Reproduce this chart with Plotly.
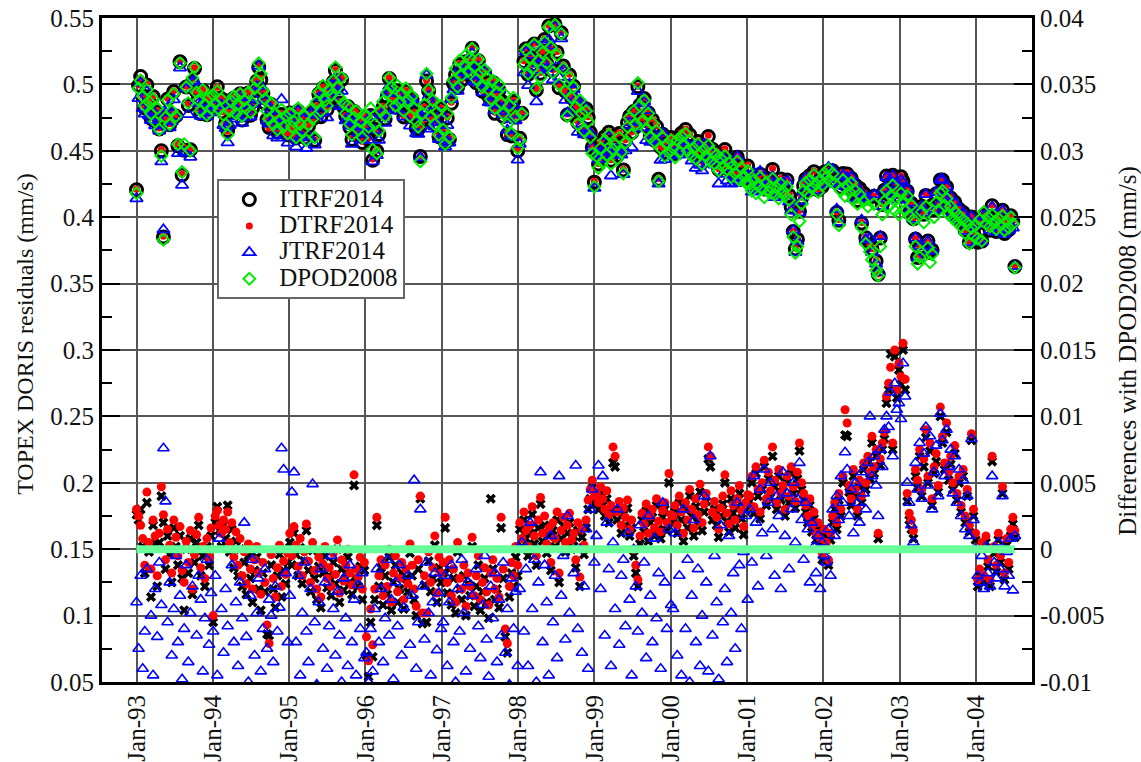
import numpy as np
import pandas as pd
import plotly.graph_objects as go

# ---------------- data ----------------
# TOPEX cycle numbers (one value per ~9.9156-day cycle)
cycles = list(range(11, 436))

# DPOD2008 TOPEX DORIS residuals (mm/s, x1000), one row per year 1993..2004
dpod2008_milli = [
    418, 497, 503, 491, 484, 496, 487, 478, 489, 472, 482, 466, 446, 383, 475, 488, 470, 480, 493, 476, 455, 516, 434, 455, 498, 486, 450, 505, 513, 494, 488, 480, 496, 485, 477, 490, 482,
    492, 486, 495, 481, 489, 477, 470, 462, 480, 487, 491, 478, 485, 493, 476, 488, 482, 494, 479, 486, 497, 503, 516, 508, 495, 489, 480, 474, 486, 470, 478, 466, 473, 481, 468, 476, 463,
    478, 468, 472, 460, 482, 470, 465, 476, 458, 470, 481, 474, 460, 487, 494, 480, 499, 488, 484, 496, 492, 503, 513, 498, 490, 505, 486, 478, 484, 470, 462, 475, 480, 466, 472, 460, 477,
    476, 468, 482, 451, 470, 448, 465, 480, 487, 476, 494, 505, 498, 490, 484, 499, 487, 493, 480, 497, 488, 476, 491, 482, 472, 468, 442, 478, 485, 508, 496, 476, 488, 470, 479, 462, 484,
    466, 455, 478, 460, 490, 503, 512, 498, 518, 507, 514, 522, 510, 520, 527, 513, 504, 519, 509, 498, 511, 505, 496, 489, 503, 482, 494, 500, 486, 478, 492, 470, 484, 463, 490, 476, 452,
    458, 478, 515, 526, 508, 520, 512, 530, 497, 518, 505, 524, 532, 516, 543, 528, 509, 545, 522, 500, 538, 512, 495, 476, 505, 490, 498, 483, 470, 488, 478, 465, 480, 472, 460, 448, 423,
    446, 437, 452, 441, 458, 447, 462, 440, 451, 455, 444, 460, 449, 433, 456, 468, 475, 462, 480, 470, 501, 484, 472, 488, 466, 478, 460, 471, 457, 465, 427, 452, 460, 446, 455, 449, 458,
    452, 445, 458, 449, 461, 455, 463, 450, 458, 446, 452, 444, 455, 448, 440, 451, 446, 454, 442, 449, 440, 447, 435, 444, 438, 446, 436, 441, 430, 439, 433, 442, 428, 437, 431, 426, 435,
    425, 420, 428, 418, 424, 430, 421, 415, 426, 419, 423, 429, 417, 422, 414, 425, 420, 416, 423, 413, 402, 385, 373, 378, 397, 410, 420, 426, 418, 428, 422, 432, 425, 419, 428, 424, 433,
    430, 436, 427, 433, 425, 402, 394, 420, 428, 416, 424, 419, 426, 413, 420, 410, 417, 392, 412, 380, 408, 374, 368, 410, 360, 356, 378, 402, 412, 420, 408, 416, 424, 405, 414, 402, 418,
    412, 405, 416, 401, 409, 398, 378, 365, 370, 404, 396, 408, 377, 366, 372, 400, 411, 405, 418, 420, 409, 414, 402, 408, 399, 404, 396, 401, 393, 398, 388, 395, 380, 392, 386, 394, 384,
    398, 382, 404, 395, 400, 393, 402, 396, 391, 399, 394, 401, 390, 397, 392, 400, 395, 362,
]

# Differences with DPOD2008 (mm/s, x10000)
diff_itrf2014 = [
    26, 22, 30, 2, -18, 35, -2, -36, 18, 4, -28, 5, 40, 20, -15, 10, -4, -25, 16, 2, -12, 10, -22, -46, 0, -18, 8, -34, -10, 5, 18, -20, -5, -28, 2, -12, 10,
    -55, 20, 32, 14, 2, 18, 8, 33, -2, 15, -14, 6, -20, 0, -28, -10, -34, -5, -22, -40, -16, -6, -30, -46, -18, -32, -64, -65, -12, -30, -44, -20, -4, -36, -16, -26, -10,
    5, -12, 12, -4, -20, 1, -26, -9, 14, -16, -32, -1, -22, -38, -13, -44, -18, -5, -29, -20, -35, -10, -26, 0, -40, -15, -31, -18, -6, -25, -34, 48, -22, -28, -13, -38, -16,
    -80, -96, -55, -81, -38, 18, -28, -14, -42, -20, -34, -6, -46, -25, -12, -40, -30, -18, -45, -22, -32, -3, -20, -38, -50, -15, 38, -56, -27, -55, -9, -32, -22, 3, -40, -14, -25,
    -18, 16, -33, -15, -42, -22, -48, -2, -30, -38, -20, -50, -26, -35, 2, -43, -28, -12, -46, -32, -22, -40, -52, 38, -15, -38, -30, -44, 16, -22, -66, -78, -36, -18, -28, -6, -20,
    15, 2, 22, 8, -5, 12, 26, 4, -12, 16, 34, 6, 18, -3, 10, -16, 14, 2, 22, -25, 8, 18, -2, 12, 20, 0, 6, -14, 14, -28, 9, -4, 16, 30, 38, 46, 34,
    38, 30, 42, 33, 25, 38, 20, 28, 65, 62, 22, 30, 12, 26, 18, 31, 10, 16, -5, -18, -28, 4, 22, 13, 29, 6, 20, 24, 10, 33, 15, 8, 24, 30, 14, 50, 20,
    20, 28, 12, 35, 22, 6, 30, 16, 40, 25, 10, 32, 20, 43, 14, 28, 36, 68, 62, 22, 30, 18, 9, 25, 34, 50, 21, 13, 38, 27, 16, 32, 42, 23, 11, 29, 35,
    36, 50, 27, 57, 40, 23, 45, 62, 33, 53, 39, 70, 47, 30, 55, 37, 43, 25, 50, 35, 57, 42, 31, 53, 74, 45, 37, 28, 20, 33, 13, 23, 7, 15, 3, -8, 10,
    0, -12, 7, 20, 30, 15, 37, 25, 50, 86, 85, 43, 33, 55, 40, 25, 47, 35, 60, 45, 65, 53, 80, 57, 70, 8, 63, 75, 83, 110, 120, 147, 75, 145, 114, 135, 124,
    150, 120, 36, 22, 15, 8, 55, 46, 70, 40, 62, 84, 50, 74, 33, 57, 66, 43, 100, 80, 60, 88, 52, 64, 45, 72, 37, 50, 28, 55, 20, 40, 13, 82, 25, 7, -28,
    -20, 0, -25, 5, -13, -28, 66, -3, -17, 7, -10, 42, -23, 3, -15, 10, 19, 9,
]

diff_dtrf2014 = [
    30, 25, 18, 8, -12, 43, 5, -15, 22, 10, -20, 12, 47, 26, -8, 15, 3, -18, 22, 9, -5, 17, -16, -25, 6, -10, 14, -30, -4, 11, 24, -14, 2, -22, 8, -6, 16,
    -50, 25, 29, 18, 12, 22, 15, 28, 5, 20, -6, 13, -12, 8, -20, -2, -26, 4, -15, -30, -8, 2, -18, -34, -10, -25, -57, -71, -4, -22, -36, -14, 3, -28, -9, -19, -3,
    12, -5, 17, 3, -13, 8, -20, -2, 19, -9, -25, 5, -16, -30, -6, -36, -11, 2, -22, -14, -28, -3, -19, 7, -33, -8, -24, -12, 0, -18, -27, 56, -15, -21, -6, -30, -10,
    -66, -84, -45, -72, -30, 24, -20, -8, -35, -12, -28, 0, -40, -18, -5, -32, -22, -10, -38, -15, -26, 4, -12, -30, -43, -8, 40, -48, -20, -48, -2, -25, -14, 10, -33, -6, -18,
    -10, 24, -25, -8, -35, -15, -40, 5, -22, -30, -12, -43, -18, -28, 9, -35, -20, -5, -38, -25, -14, -32, -42, -18, -8, -30, -22, -36, 24, -15, -60, -71, -28, -10, -20, 2, -12,
    20, 8, 28, 14, 2, 18, 32, 10, -5, 22, 39, 12, 25, 4, 16, -10, 20, 8, 28, -18, 14, 24, 5, 18, 27, 7, 12, -8, 20, -21, 15, 3, 22, 37, 45, 52, 40,
    42, 35, 47, 38, 30, 44, 26, 33, 77, 70, 28, 36, 18, 31, 24, 37, 15, 22, 0, -12, -23, 10, 27, 19, 34, 12, 25, 30, 16, 38, 21, 13, 29, 35, 20, 57, 26,
    25, 33, 18, 40, 28, 12, 35, 22, 45, 30, 16, 38, 26, 49, 20, 34, 42, 77, 70, 28, 36, 24, 15, 31, 40, 56, 27, 19, 44, 33, 22, 38, 48, 29, 17, 35, 41,
    40, 55, 32, 62, 45, 28, 50, 67, 38, 58, 44, 77, 52, 35, 60, 42, 48, 30, 55, 40, 62, 47, 36, 58, 80, 50, 42, 33, 25, 38, 18, 28, 12, 20, 8, -3, 15,
    5, -8, 12, 25, 35, 20, 42, 30, 55, 105, 95, 48, 38, 60, 45, 30, 52, 40, 65, 50, 70, 58, 85, 62, 75, 12, 68, 80, 88, 115, 125, 137, 80, 150, 120, 140, 130,
    155, 128, 42, 27, 22, 14, 60, 52, 75, 45, 68, 90, 55, 80, 38, 62, 72, 48, 107, 85, 65, 95, 58, 70, 50, 78, 42, 55, 33, 60, 25, 45, 18, 87, 30, 12, -23,
    -15, 5, -20, 10, -8, -23, 70, 2, -12, 12, -5, 47, -18, 8, -10, 15, 24, 14,
]

diff_jtrf2014 = [
    -40, -75, -20, -90, -62, -15, -105, -50, -95, -30, -66, -10, -42, 76, 36, -55, -25, -80, -45, -5, -70, -35, -98, -60, -12, -85, -48, -28, -110, -65, -20, -38, -92, -52, -8, -72, -33,
    -62, -20, -95, 8, -45, -78, -30, -58, -108, -12, -70, -40, -88, -25, -52, 20, -66, -100, -35, -8, -80, -48, -22, -92, -60, -15, -75, -38, -50, -85, -28, -62, -44, 76, 60, -18, -70,
    -35, 43, 58, -70, -20, -95, -48, -10, -62, -85, -30, 49, -55, -102, -40, -15, -75, -25, -90, -58, -5, -45, -80, -32, -65, -100, -22, -52, -88, -12, -70, -38, -95, -27, -60, -18, -82,
    -78, -100, -60, -92, -45, -15, -70, -30, -85, -52, -8, -65, -38, -98, -25, -58, -12, -80, -44, -108, -20, -72, -35, 52, -90, -55, 30, -28, -68, -10, -48, -95, -40, -18, -76, -33, -60,
    -55, -20, -88, -40, -12, -70, -100, -30, -62, -8, -48, -92, -25, -75, -35, -110, -15, -58, -82, -42, -5, -68, -96, -28, -52, -18, -85, -38, -65, -10, -78, -45, -102, -22, -60, -32, -88,
    -30, 5, -62, -15, -88, 20, -45, -8, -100, -25, 58, -70, -12, -40, -95, 10, -55, -20, -82, 55, -35, -5, -68, 25, -48, -105, -18, 63, -60, 0, -78, -28, 15, -90, 30, 45, -10,
    10, 63, -30, 55, -65, 20, -15, -88, 5, -45, 30, -72, -20, -8, -58, 12, -38, -95, 0, -28, -62, 18, -48, -10, -82, 25, -35, -70, 8, -52, -18, -90, 35, -25, -60, 15, -42,
    -45, 12, -80, -20, -95, 30, -60, -8, -100, -35, 22, -70, -15, -88, -50, 40, -25, -92, 70, -65, -5, -40, -98, 18, -55, -30, -85, 10, -48, -18, -75, 35, -12, -60, -2, 25, -38,
    30, -10, 55, 20, -28, 45, 12, 60, -5, 35, 50, 15, -20, 40, 25, -30, 58, 10, 42, -15, 30, 50, 5, 38, 65, 22, -8, 35, 15, -25, 20, 2, -18, 10, -30, 5, -5,
    -10, 15, -20, 30, 10, 40, 22, 55, 35, 73, 60, 25, 45, 12, 50, 35, 20, 58, 42, 30, 65, 100, 55, 70, 48, 25, 75, 62, 90, 100, 92, 118, 70, 125, 105, 110, 98,
    140, 115, 50, 35, 18, 5, 65, 45, 80, 38, 72, 92, 48, 85, 30, 58, 78, 40, 102, 82, 55, 90, 62, 75, 42, 70, 35, 60, 25, 52, 15, 40, 10, 83, 22, 0, -20,
    -25, -5, -30, 2, -18, -28, 55, -10, -22, 5, -15, 40, -28, -2, -20, 8, -31, 10,
]

series_names = ["ITRF2014", "DTRF2014", "JTRF2014", "DPOD2008"]
tick_years = list(range(1993, 2005))
x_tick_labels = ["Jan-93", "Jan-94", "Jan-95", "Jan-96", "Jan-97", "Jan-98",
                 "Jan-99", "Jan-00", "Jan-01", "Jan-02", "Jan-03", "Jan-04"]
left_tick_vals = [0.05, 0.1, 0.15, 0.2, 0.25, 0.3, 0.35, 0.4, 0.45, 0.5, 0.55]
left_tick_text = ["0.05", "0.1", "0.15", "0.2", "0.25", "0.3", "0.35", "0.4", "0.45", "0.5", "0.55"]
right_tick_vals = [-0.01, -0.005, 0, 0.005, 0.01, 0.015, 0.02, 0.025, 0.03, 0.035, 0.04]
right_tick_text = ["-0.01", "-0.005", "0", "0.005", "0.01", "0.015", "0.02", "0.025", "0.03", "0.035", "0.04"]

# ---------------- derived ----------------
n = min(len(cycles), len(dpod2008_milli), len(diff_itrf2014), len(diff_dtrf2014), len(diff_jtrf2014))
cyc = np.array(cycles[:n])
dates = pd.Timestamp("1992-09-23") + pd.to_timedelta((cyc - 1) * 9.9156, unit="D")

dpod = np.array(dpod2008_milli[:n]) / 1000.0
d_itrf = np.array(diff_itrf2014[:n]) / 10000.0
d_dtrf = np.array(diff_dtrf2014[:n]) / 10000.0
d_jtrf = np.array(diff_jtrf2014[:n]) / 10000.0
d_dpod = dpod - dpod

itrf = dpod + d_itrf
dtrf = dpod + d_dtrf
jtrf = dpod + d_jtrf

FONT = "Liberation Serif"
GRID = "#555555"
TXT = "#111111"


def legend_label(s):
    # larger glyphs than the legend's nominal font, so rows stay compact
    return f'<span style="font-size:25px">{s}</span>'


fig = go.Figure()

# top panel: residuals (left axis)
fig.add_trace(go.Scatter(x=dates, y=itrf, mode="markers", name=legend_label(series_names[0]),
                         marker=dict(symbol="circle-open", size=12, color="black",
                                     line=dict(width=3, color="black"))))
fig.add_trace(go.Scatter(x=dates, y=dtrf, mode="markers", name=legend_label(series_names[1]),
                         marker=dict(symbol="circle", size=7, color="#ff0000",
                                     line=dict(width=0))))
fig.add_trace(go.Scatter(x=dates, y=jtrf, mode="markers", name=legend_label(series_names[2]),
                         marker=dict(symbol="triangle-up-open", size=11, color="#0000ff",
                                     line=dict(width=1.8, color="#0000ff"))))
fig.add_trace(go.Scatter(x=dates, y=dpod, mode="markers", name=legend_label(series_names[3]),
                         marker=dict(symbol="diamond-open", size=9, color="#00ee00",
                                     line=dict(width=2, color="#00ee00"))))

# bottom panel: differences (right axis)
fig.add_trace(go.Scatter(x=dates, y=d_itrf, mode="markers", yaxis="y2", showlegend=False,
                         marker=dict(symbol="x", size=9, color="black", line=dict(width=0))))
fig.add_trace(go.Scatter(x=dates, y=d_dtrf, mode="markers", yaxis="y2", showlegend=False,
                         marker=dict(symbol="circle", size=9, color="#ff0000", line=dict(width=0))))
fig.add_trace(go.Scatter(x=dates, y=d_jtrf, mode="markers", yaxis="y2", showlegend=False,
                         marker=dict(symbol="triangle-up-open", size=10, color="#0000ff",
                                     line=dict(width=1.6, color="#0000ff"))))
fig.add_trace(go.Scatter(x=dates, y=d_dpod, mode="lines", yaxis="y2", showlegend=False,
                         line=dict(color="#66ff99", width=8)))

tickfont = dict(family=FONT, size=25, color=TXT)

fig.update_layout(
    width=1141, height=762, autosize=False,
    margin=dict(l=102, r=109, t=18, b=80, autoexpand=False),
    paper_bgcolor="white", plot_bgcolor="white",
    font=dict(family=FONT, color=TXT),
    xaxis=dict(
        type="date", range=["1992-07-19", "2004-09-25"],
        tickmode="array",
        tickvals=[f"{y}-01-01" for y in tick_years], ticktext=x_tick_labels,
        tickangle=-90, tickfont=tickfont, automargin=False,
        showgrid=True, gridcolor=GRID, gridwidth=2,
        showline=True, linecolor="black", linewidth=3, mirror=True,
        ticks="", zeroline=False,
    ),
    yaxis=dict(
        range=[0.05, 0.55], tickmode="array", automargin=False,
        tickvals=left_tick_vals, ticktext=left_tick_text, tickfont=tickfont,
        ticks="inside", ticklen=18, tickwidth=2, tickcolor="black",
        minor=dict(ticks="inside", ticklen=10, tickwidth=2, tickcolor="black",
                   tickmode="linear", tick0=0.075, dtick=0.05, showgrid=False),
        showgrid=True, gridcolor=GRID, gridwidth=2,
        showline=True, linecolor="black", linewidth=3, zeroline=False,
    ),
    yaxis2=dict(
        overlaying="y", side="right", automargin=False,
        range=[-0.01, 0.04], tickmode="array",
        tickvals=right_tick_vals, ticktext=right_tick_text, tickfont=tickfont,
        ticks="inside", ticklen=18, tickwidth=2, tickcolor="black",
        minor=dict(ticks="inside", ticklen=10, tickwidth=2, tickcolor="black",
                   tickmode="linear", tick0=-0.0075, dtick=0.005, showgrid=False),
        showgrid=False, showline=True, linecolor="black", linewidth=3, zeroline=False,
    ),
    legend=dict(
        x=0.124, y=0.757, xanchor="left", yanchor="top",
        bgcolor="white", bordercolor="#666666", borderwidth=2,
        font=dict(family=FONT, size=18, color=TXT),
        itemsizing="trace", itemwidth=50, tracegroupgap=0,
    ),
    annotations=[
        dict(text="TOPEX DORIS residuals (mm/s)", xref="paper", yref="paper",
             x=-0.083, y=0.524, textangle=-90, showarrow=False,
             xanchor="center", yanchor="middle",
             font=dict(family=FONT, size=24, color=TXT)),
        dict(text="Differences with DPOD2008 (mm/s)", xref="paper", yref="paper",
             x=1.103, y=0.4985, textangle=-90, showarrow=False,
             xanchor="center", yanchor="middle",
             font=dict(family=FONT, size=25, color=TXT)),
    ],
)

fig.write_html("out.html")
